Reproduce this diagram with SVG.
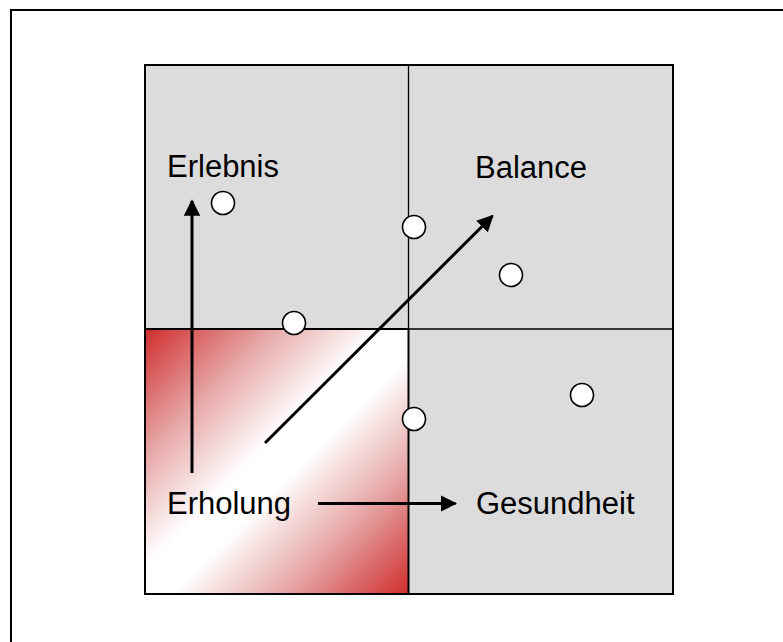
<svg xmlns="http://www.w3.org/2000/svg" width="783" height="642" viewBox="0 0 783 642">
<defs>
<linearGradient id="rg" x1="0" y1="0" x2="1" y2="1">
<stop offset="0" stop-color="#d02d2d"/>
<stop offset="0.24" stop-color="#e6a6a6"/>
<stop offset="0.45" stop-color="#ffffff"/>
<stop offset="0.55" stop-color="#ffffff"/>
<stop offset="0.76" stop-color="#e6a6a6"/>
<stop offset="1" stop-color="#d02d2d"/>
</linearGradient>
<marker id="ah" viewBox="0 0 10 10" refX="9" refY="5" markerWidth="5.5" markerHeight="5.5" orient="auto" markerUnits="strokeWidth">
<path d="M0,0 L10,5 L0,10 z" fill="#000"/>
</marker>
</defs>
<style>
text{font-family:"Liberation Sans",Arial,sans-serif;font-size:31px;fill:#000}
.pt{fill:#fff;stroke:#000;stroke-width:1.6}
.ar{stroke:#000;stroke-width:3;fill:none;marker-end:url(#ah)}
</style>
<rect x="0" y="0" width="783" height="642" fill="#fff"/>
<rect x="11" y="10" width="900" height="800" fill="none" stroke="#000" stroke-width="2"/>
<g id="grid">
<rect x="145" y="65" width="528" height="529" fill="#dcdcdc" stroke="#000" stroke-width="2"/>
<line x1="408.5" y1="65" x2="408.5" y2="329" stroke="#000" stroke-width="1.3"/>
<line x1="408.5" y1="329" x2="673" y2="329" stroke="#000" stroke-width="1.3"/>
<rect id="erholung-cell" x="145" y="329" width="263.5" height="265" fill="url(#rg)" stroke="#000" stroke-width="2"/>
</g>
<g id="labels">
<text id="erlebnis" x="167" y="177">Erlebnis</text>
<text id="balance" x="475" y="178">Balance</text>
<text id="erholung" x="167" y="514">Erholung</text>
<text id="gesundheit" x="476" y="514">Gesundheit</text>
</g>
<g id="connectors">
<line class="ar" x1="192" y1="473" x2="192" y2="201"/>
<line class="ar" x1="265" y1="443" x2="492.5" y2="216"/>
<line class="ar" x1="318" y1="503.5" x2="455.5" y2="503.5"/>
</g>
<g id="points">
<circle class="pt" cx="223" cy="203" r="11.5"/>
<circle class="pt" cx="414" cy="227" r="11.5"/>
<circle class="pt" cx="294" cy="323" r="11.5"/>
<circle class="pt" cx="511" cy="275" r="11.5"/>
<circle class="pt" cx="582" cy="395" r="11.5"/>
<circle class="pt" cx="414" cy="419" r="11.5"/>
</g>
</svg>
